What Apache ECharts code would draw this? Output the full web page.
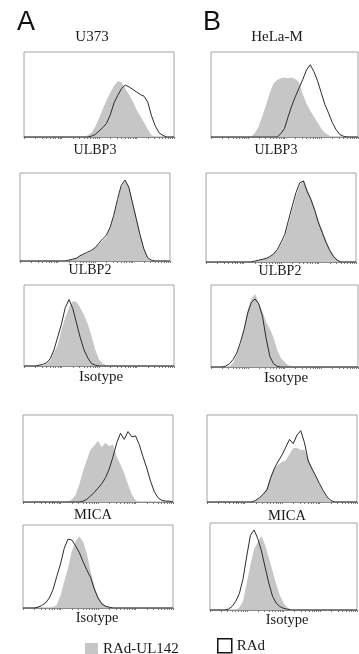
<!DOCTYPE html>
<html>
<head>
<meta charset="utf-8">
<script src="https://cdn.jsdelivr.net/npm/echarts@6/dist/echarts.min.js"></script>
<style>
  html, body { margin: 0; padding: 0; background: #fff; }
  #chart { width: 359px; height: 654px; }
</style>
</head>
<body>
<div id="chart"></div>
<script>
// fluorescence, log decades (bin centres)
const decades = [0, 0.1, 0.2, 0.3, 0.4, 0.5, 0.6, 0.7, 0.8, 0.9,
  1, 1.1, 1.2, 1.3, 1.4, 1.5, 1.6, 1.7, 1.8, 1.9,
  2, 2.1, 2.2, 2.3, 2.4, 2.5, 2.6, 2.7, 2.8, 2.9,
  3, 3.1, 3.2, 3.3, 3.4, 3.5, 3.6, 3.7, 3.8, 3.9, 4]

const cellLines = ['U373', 'HeLa-M']
const markers = ['ULBP3', 'ULBP2', 'Isotype', 'MICA', 'Isotype']
const seriesNames = ['RAd-UL142', 'RAd']

// counts (% of axis max) -- gray = RAd-UL142, black = RAd
// U373
const a1Gray = [0,0,0,0,0,0,0,0,0,0, 0,0,0,0,0,0,0,2,5,12, 22,33,43,52,60,66,64,57,50,42, 32,25,17,9,2,0,0,0,0,0, 0]
const a1Black = [0,0,0,0,0,0,0,0,0,0, 0,0,0,0,0,0,0,0,1,3, 7,11,16,26,40,49,57,61,59,56, 53,50,48,41,25,13,5,2,0,0, 0]
const a2Gray = [0,0,0,0,0,0,0,0,0,0, 0,0,0,1,2,4,6,7,9,11, 15,19,23,27,37,50,68,84,91,85, 68,50,31,15,4,0,0,0,0,0, 0]
const a2Black = [0,0,0,0,0,0,0,0,0,0, 0,0,0,1,2,3,6,8,10,12, 15,20,25,29,38,52,70,86,92,84, 66,48,30,14,4,1,0,0,0,0, 0]
const a3Gray = [0,0,0,0,0,0,3,7,17,26, 45,60,72,80,79,72,63,52,37,20, 8,3,1,1,1,0,0,0,0,0, 0,0,0,0,0,0,0,0,0,0, 0]
const a3Black = [0,0,0,0,1,2,4,9,20,36, 52,72,82,71,53,35,20,10,3,1, 0,0,0,0,0,0,0,0,0,0, 0,0,0,0,0,0,0,0,0,0, 0]
const a4Gray = [0,0,0,0,0,0,0,0,0,0, 0,0,0,3,8,20,35,48,60,65, 70,63,68,64,66,52,43,33,20,9, 2,0,0,0,0,0,0,0,0,0, 0]
const a4Black = [0,0,0,0,0,0,0,0,0,0, 0,0,0,0,0,0,1,3,7,11, 16,21,28,38,52,68,79,72,81,75, 76,66,52,39,24,12,5,2,1,1, 0]
const a5Gray = [0,0,0,0,0,0,0,0,1,4, 15,32,48,68,80,86,80,66,45,27, 14,7,3,1,0,0,0,0,0,0, 0,0,0,0,0,0,0,0,0,0, 0]
const a5Black = [0,0,0,0,1,3,6,12,22,38, 53,72,83,82,75,67,56,46,37,23, 12,5,2,1,0,0,0,0,0,0, 0,0,0,0,0,0,0,0,0,0, 0]
// HeLa-M
const b1Gray = [0,0,0,0,0,0,0,0,0,0, 0,1,5,13,25,38,52,63,67,69, 70,69,70,68,64,50,39,31,24,17, 10,5,2,0,0,0,0,0,0,0, 0]
const b1Black = [0,0,0,0,0,0,0,0,0,0, 0,0,0,0,0,0,0,0,0,4, 10,24,37,48,58,68,79,85,77,66, 52,38,28,17,9,3,1,0,0,0, 0]
const b2Gray = [0,0,0,0,0,0,0,0,0,0, 0,0,0,1,2,3,4,6,9,13, 20,28,43,59,74,86,92,82,72,60, 47,36,25,15,8,3,0,0,0,0, 0]
const b2Black = [0,0,0,0,0,0,0,0,0,0, 0,0,0,1,2,3,4,6,9,14, 22,31,47,63,78,89,91,79,70,58, 44,33,22,13,6,2,0,0,0,0, 0]
const b3Gray = [0,0,0,0,0,1,5,15,28,46, 70,83,89,78,68,55,47,36,21,11, 6,2,1,0,0,0,0,0,0,0, 0,0,0,0,0,0,0,0,0,0, 0]
const b3Black = [0,0,0,0,1,4,9,17,30,46, 66,79,83,77,62,35,13,4,1,0, 0,0,0,0,0,0,0,0,0,0, 0,0,0,0,0,0,0,0,0,0, 0]
const b4Gray = [0,0,0,0,0,0,0,0,0,0, 0,0,0,2,5,10,17,30,39,43, 46,48,55,62,62,60,60,50,40,30, 20,12,6,1,0,0,0,0,0,0, 0]
const b4Black = [0,0,0,0,0,0,0,0,0,0, 0,0,0,2,5,9,14,28,39,47, 54,63,72,67,77,82,68,47,38,30, 21,13,6,2,0,0,0,0,0,0, 0]
const b5Gray = [0,0,0,0,0,0,0,0,3,10, 31,52,70,78,85,75,60,45,30,17, 8,3,1,0,0,0,0,0,0,0, 0,0,0,0,0,0,0,0,0,0, 0]
const b5Black = [0,0,0,0,0,1,4,10,19,36, 62,86,92,82,68,49,31,16,8,4, 2,1,0,0,0,0,0,0,0,0, 0,0,0,0,0,0,0,0,0,0, 0]

const GRAY = '#c6c6c6'
const INK = '#2a2a2a'
const SERIF = 'Liberation Serif'

// [left, top, width, height] of each plot frame, label centre and size
const panels = [
  { gray: a1Gray, black: a1Black, box: [24, 52, 150, 85], label: markers[0], lx: 95, ly: 150, fs: 14 },
  { gray: b1Gray, black: b1Black, box: [211, 52, 147, 85], label: markers[0], lx: 276, ly: 150, fs: 14 },
  { gray: a2Gray, black: a2Black, box: [20, 173, 150, 88], label: markers[1], lx: 90, ly: 270, fs: 14 },
  { gray: b2Gray, black: b2Black, box: [206, 173, 150, 89], label: markers[1], lx: 280, ly: 271, fs: 14 },
  { gray: a3Gray, black: a3Black, box: [24, 285, 150, 81], label: markers[2], lx: 101, ly: 377, fs: 15 },
  { gray: b3Gray, black: b3Black, box: [211, 285, 147, 82], label: markers[2], lx: 286, ly: 378, fs: 15 },
  { gray: a4Gray, black: a4Black, box: [23, 415, 150, 87], label: markers[3], lx: 93, ly: 515, fs: 14.5 },
  { gray: b4Gray, black: b4Black, box: [207, 415, 150, 87], label: markers[3], lx: 287, ly: 516, fs: 14.5 },
  { gray: a5Gray, black: a5Black, box: [23, 525, 150, 83], label: markers[4], lx: 97, ly: 618, fs: 14.5 },
  { gray: b5Gray, black: b5Black, box: [210, 523, 147, 87], label: markers[4], lx: 287, ly: 620, fs: 14.5 },
]

// log minor ticks along the fluorescence axis
const logTicks = []
for (let d = 0; d < 4; d++) {
  for (let k = 1; k < 10; k++) logTicks.push(d + Math.log10(k))
}
logTicks.push(4)

const chart = echarts.init(document.getElementById('chart'), null, { renderer: 'canvas' })

const grid = []
const xAxis = []
const yAxis = []
const series = []
const graphic = []

panels.forEach((p, i) => {
  const [left, top, width, height] = p.box
  grid.push({ left, top, width, height, show: true, borderColor: '#a4a4a4', borderWidth: 1 })
  xAxis.push({
    gridIndex: i, type: 'value', min: 0, max: 4,
    axisLine: { show: true, lineStyle: { color: '#8c8c8c', width: 1 } },
    axisTick: { show: true, customValues: logTicks, length: 2, lineStyle: { color: '#7a7a7a' } },
    axisLabel: { show: false },
    splitLine: { show: false }
  })
  yAxis.push({ gridIndex: i, type: 'value', min: 0, max: 100, show: false, splitLine: { show: false } })
  series.push({
    name: seriesNames[0], type: 'line', xAxisIndex: i, yAxisIndex: i,
    data: decades.map((d, j) => [d, p.gray[j]]),
    symbol: 'none', silent: true, z: 2,
    lineStyle: { width: 0 },
    itemStyle: { color: GRAY },
    areaStyle: { color: GRAY, opacity: 1 }
  })
  series.push({
    name: seriesNames[1], type: 'line', xAxisIndex: i, yAxisIndex: i,
    data: decades.map((d, j) => [d, p.black[j]]),
    symbol: 'none', silent: true, z: 3,
    lineStyle: { color: INK, width: 1 },
    itemStyle: { color: INK }
  })
  graphic.push({
    type: 'text', x: p.lx, y: p.ly,
    style: { text: p.label, fontFamily: SERIF, fontSize: p.fs, fill: '#1a1a1a', textAlign: 'center', textVerticalAlign: 'middle' }
  })
})

// panel letters and cell line headers
graphic.push(
  { type: 'text', x: 26, y: 23, style: { text: 'A', fontFamily: 'Liberation Sans', fontSize: 27, fill: '#111', textAlign: 'center', textVerticalAlign: 'middle' } },
  { type: 'text', x: 212, y: 23, style: { text: 'B', fontFamily: 'Liberation Sans', fontSize: 27, fill: '#111', textAlign: 'center', textVerticalAlign: 'middle' } },
  { type: 'text', x: 92, y: 37, style: { text: cellLines[0], fontFamily: SERIF, fontSize: 15, fill: '#1a1a1a', textAlign: 'center', textVerticalAlign: 'middle' } },
  { type: 'text', x: 277, y: 37, style: { text: cellLines[1], fontFamily: SERIF, fontSize: 15, fill: '#1a1a1a', textAlign: 'center', textVerticalAlign: 'middle' } }
)

const option = {
  animation: false,
  backgroundColor: '#fff',
  grid,
  xAxis,
  yAxis,
  series,
  graphic,
  legend: [{
    left: 80, top: 637, itemWidth: 13, itemHeight: 13, selectedMode: false,
    textStyle: { fontFamily: SERIF, fontSize: 15, color: '#1a1a1a' },
    data: [{ name: seriesNames[0], icon: 'rect', itemStyle: { color: GRAY, borderWidth: 0 } }]
  }, {
    left: 212, top: 633, itemWidth: 14, itemHeight: 14, selectedMode: false,
    textStyle: { fontFamily: SERIF, fontSize: 15, color: '#1a1a1a' },
    data: [{ name: seriesNames[1], icon: 'rect', itemStyle: { color: '#fff', borderColor: '#111', borderWidth: 1.5 } }]
  }]
}

chart.setOption(option)
</script>
</body>
</html>
